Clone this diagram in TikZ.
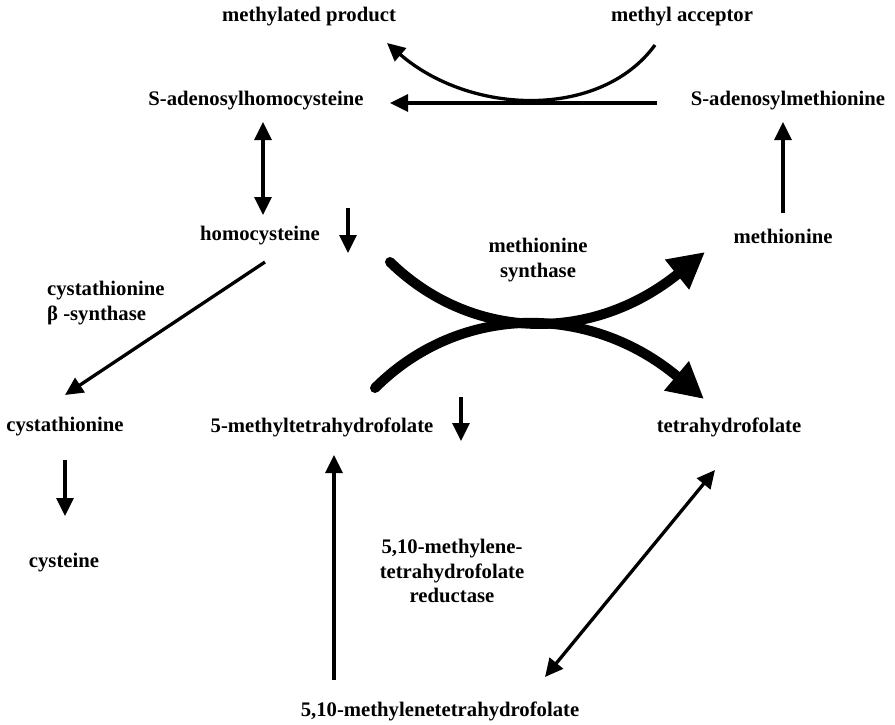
\documentclass[tikz,border=0pt]{standalone}
\usepackage{fontspec}
\setmainfont{Liberation Serif}
\usetikzlibrary{arrows.meta}
\begin{document}
\begin{tikzpicture}[x=1pt,y=-1pt,
  lbl/.style={inner sep=0pt,font=\fontsize{20.7}{24.8}\selectfont\bfseries},
  mlbl/.style={lbl,align=center},
  thin/.style={line width=3.3pt,-{Triangle[length=18pt,width=17pt]}},
  thinboth/.style={line width=3.3pt,{Triangle[length=18pt,width=17pt]}-{Triangle[length=18pt,width=17pt]}},
  thick/.style={line width=10pt,line cap=round,-{Triangle[length=36pt,width=36pt]}}]
\useasboundingbox (0,0) rectangle (895,724);
% nodes
\node[lbl] (mp) at (309,17) {methylated product};
\node[lbl] (ma) at (682,17) {methyl acceptor};
\node[lbl] (sah) at (256,101) {S-adenosylhomocysteine};
\node[lbl] (sam) at (788,101) {S-adenosylmethionine};
\node[lbl] (hcy) at (260,236) {homocysteine};
\node[mlbl] (ms) at (538,260) {methionine\\synthase};
\node[lbl] (met) at (783,236) {methionine};
\node[lbl,align=left,anchor=west] (cbs) at (47,303) {cystathionine\\β -synthase};
\node[lbl] (cys) at (65,427) {cystathionine};
\node[lbl] (mthf) at (322,427) {5-methyltetrahydrofolate};
\node[lbl] (thf) at (729,427) {tetrahydrofolate};
\node[lbl] (cyst) at (64,563) {cysteine};
\node[mlbl] (mthfr) at (452,571) {5,10-methylene-\\tetrahydrofolate\\reductase};
\node[lbl] (mlthf) at (440,711) {5,10-methylenetetrahydrofolate};
% connector end points
\coordinate (a1) at (655,45);
\coordinate (a2) at (387,43);
\coordinate (b1) at (657,103);
\coordinate (b2) at (390,103);
\coordinate (c1) at (263,122);
\coordinate (c2) at (263,215);
\coordinate (d1) at (783,213);
\coordinate (d2) at (783,122);
\coordinate (e1) at (348,208);
\coordinate (e2) at (348,253);
\coordinate (f1) at (461,397);
\coordinate (f2) at (461,441);
\coordinate (g1) at (265,262);
\coordinate (g2) at (65,395);
\coordinate (h1) at (65,460);
\coordinate (h2) at (65,516);
\coordinate (i1) at (334,680);
\coordinate (i2) at (334,455);
\coordinate (j1) at (715,470);
\coordinate (j2) at (545,677);
\coordinate (k1) at (390,262);
\coordinate (k2) at (705,252);
\coordinate (l1) at (375,388);
\coordinate (l2) at (704,399);
% connectors
\draw[thin] (a1) .. controls (600,120) and (470,115) .. (a2);
\draw[thin] (b1) -- (b2);
\draw[thinboth] (c1) -- (c2);
\draw[thin] (d1) -- (d2);
\draw[thin] (e1) -- (e2);
\draw[thin] (f1) -- (f2);
\draw[thin] (g1) -- (g2);
\draw[thin] (h1) -- (h2);
\draw[thin] (i1) -- (i2);
\draw[thinboth] (j1) -- (j2);
\draw[thick] (k1) .. controls (470,340) and (590,345) .. (k2);
\draw[thick] (l1) .. controls (460,303) and (590,303) .. (l2);
\end{tikzpicture}
\end{document}
